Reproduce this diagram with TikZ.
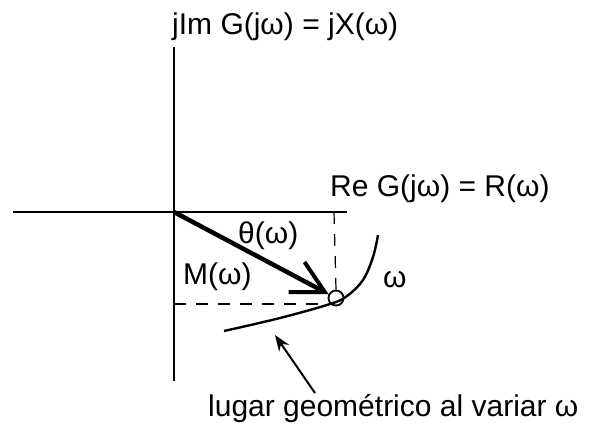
\documentclass[tikz,border=0pt]{standalone}
\usepackage{fontspec}
\setmainfont{Liberation Sans}
\usetikzlibrary{arrows.meta}
\begin{document}
\begin{tikzpicture}[x=1pt,y=-1pt,
  lbl/.style={anchor=base west, inner sep=0pt, font=\fontsize{30}{34}\selectfont},
  axisline/.style={line width=1.3pt},
  dashline/.style={line width=1.2pt, dash pattern=on 12pt off 10pt},
  vecline/.style={line width=4.5pt, -{Straight Barb[length=32pt,width=34pt,line width=4pt]}},
  locus/.style={line width=2.4pt},
  pointer/.style={line width=2pt, -{Stealth[length=16pt,width=12pt]}},
  pt/.style={circle, draw, line width=1.8pt, minimum size=15pt, inner sep=0pt}]
\useasboundingbox (0,0) rectangle (593,429);
% axes
\coordinate (O) at (174,212);
\coordinate (xl) at (13,212);
\coordinate (xr) at (347,212);
\coordinate (yt) at (174,47);
\coordinate (yb) at (174,381);
\draw[axisline] (xl) -- (xr);
\draw[axisline] (yt) -- (yb);
% point on locus
\node[pt] (P) at (336,298) {};
% dashed projections
\coordinate (Rx) at (334,212);
\coordinate (Ym) at (174,304);
\draw[dashline] (Rx) -- (P.north);
\draw[dashline] (Ym) -- (P.west |- Ym);
% locus curve
\draw[locus] plot[smooth, tension=0.6] coordinates {(224,331) (280,318) (330,304) (347,296) (363,280) (373,257) (378,235)};
% vector
\draw[vecline] (O) -- (P);
% pointer arrow
\coordinate (ptail) at (315,393);
\coordinate (phead) at (275,335);
\draw[pointer] (ptail) -- (phead);
% labels
\node[lbl] (im) at (172,34) {jIm G(jω) = jX(ω)};
\node[lbl] (re) at (330,196) {Re G(jω) = R(ω)};
\node[lbl] (th) at (238,243) {θ(ω)};
\node[lbl] (M) at (183,284) {M(ω)};
\node[lbl] (w) at (383,287) {ω};
\node[lbl] (lg) at (208,416) {lugar geométrico al variar ω};
\end{tikzpicture}
\end{document}
